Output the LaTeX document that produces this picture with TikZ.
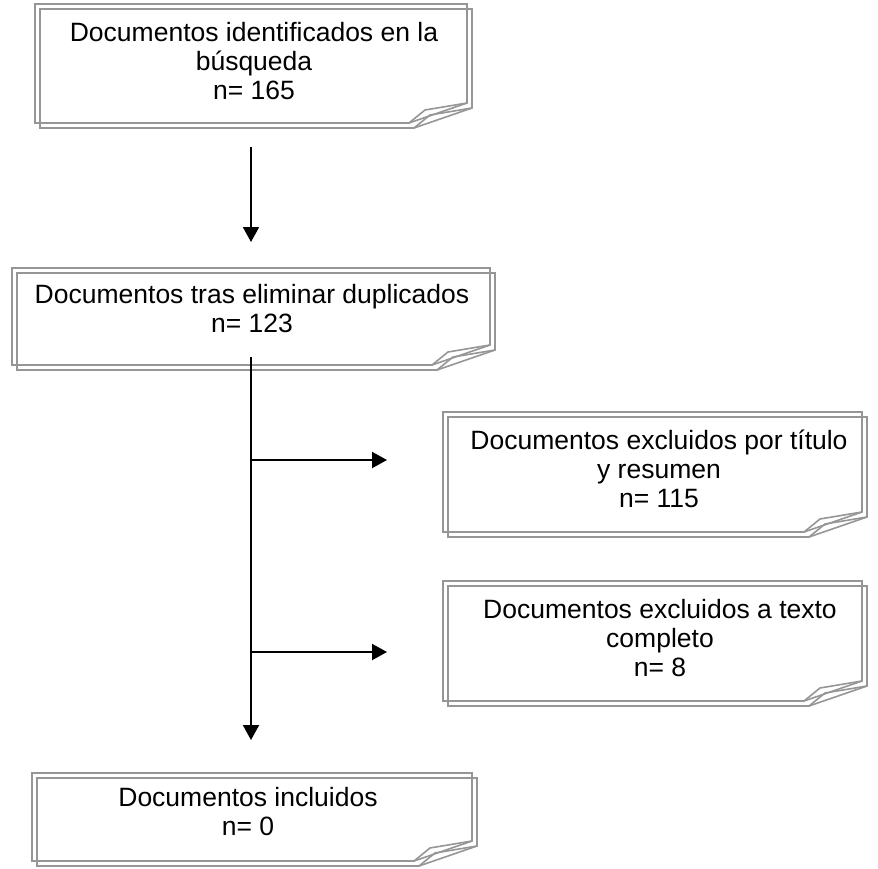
\documentclass[tikz,border=0pt]{standalone}
\usepackage{fontspec}
\setmainfont{Liberation Sans}
\usetikzlibrary{arrows.meta}

\definecolor{framegray}{RGB}{150,150,150}
\tikzset{
	frame/.style={draw=framegray, line width=1.6pt, line join=miter},
	flow/.style={line width=2pt, -{Triangle[length=15pt,width=16pt]}},
	boxtext/.style={align=center, inner sep=0pt, font=\fontsize{26.5}{29}\selectfont}
}
% one sheet with curled lower right corner: left, top, right, bottom
\newcommand{\curlframe}[4]{%
	\draw[frame] (#1,#2) -- (#3,#2) -- (#3,#4-20) -- (#3-58,#4) -- (#1,#4) -- cycle;
	\draw[frame] (#3-58,#4) -- (#3-42,#4-13) -- (#3,#4-20);
}
% two sheets, the back one shifted up and left
\newcommand{\paperbox}[4]{%
	\curlframe{#1-5}{#2-5}{#3-5}{#4-5}
	\curlframe{#1}{#2}{#3}{#4}
}

\begin{document}
\begin{tikzpicture}[x=1pt, y=-1pt]
		\useasboundingbox (0,0) rectangle (878,868);
		
		%boxes
		\paperbox{40}{9}{472}{128}
		\node[boxtext] (found) at (254, 61) {Documentos identificados en la\\búsqueda\\n= 165};
		
		\paperbox{17}{273}{495}{370}
		\node[boxtext] (nodup) at (252, 309) {Documentos tras eliminar duplicados\\n= 123};
		
		\paperbox{448}{417}{867}{537}
		\node[boxtext] (extitle) at (659, 469) {Documentos excluidos por título\\y resumen\\n= 115};
		
		\paperbox{448}{586}{867}{706}
		\node[boxtext] (exfull) at (660, 638) {Documentos excluidos a texto\\completo\\n= 8};
		
		\paperbox{37}{778}{477}{866}
		\node[boxtext] (incl) at (248, 812) {Documentos incluidos\\n= 0};
		
		%arrows
		\coordinate (foundout) at (251, 147);
		\coordinate (nodupin) at (251, 242);
		\coordinate (nodupout) at (251, 357);
		\coordinate (inclin) at (251, 740);
		\coordinate (split1) at (251, 460);
		\coordinate (extitlein) at (387, 460);
		\coordinate (split2) at (251, 652);
		\coordinate (exfullin) at (387, 652);
		
		\draw[flow] (foundout) -- (nodupin);
		\draw[flow] (nodupout) -- (inclin);
		\draw[flow] (split1) -- (extitlein);
		\draw[flow] (split2) -- (exfullin);
		\end{tikzpicture}
\end{document}
